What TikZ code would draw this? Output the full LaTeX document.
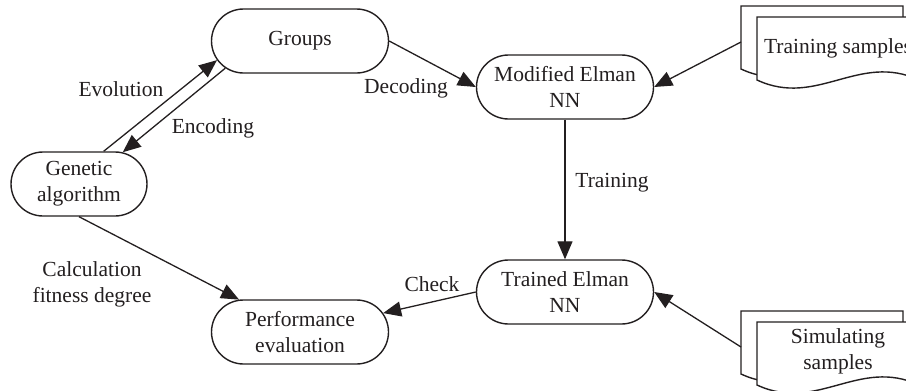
\documentclass[tikz,border=0pt]{standalone}
\usepackage{fontspec}
\setmainfont{Liberation Serif}
\usetikzlibrary{shapes.misc,arrows.meta,calc}
\definecolor{ink}{RGB}{35,31,32}
\begin{document}
\begin{tikzpicture}[x=1pt,y=-1pt,
  font=\fontsize{21.5}{26}\selectfont,
  every node/.style={text=ink},
  stadium/.style={draw=ink, rounded rectangle, line width=1.4pt,
    minimum width=177pt, minimum height=64pt, align=center,
    inner sep=0pt, fill=white},
  flow/.style={draw=ink, line width=1.3pt,
    -{Triangle[length=18pt,width=15pt]}},
  lbl/.style={align=center, inner sep=0pt},
  docpage/.style={draw=ink, line width=1.4pt, fill=white}]

\useasboundingbox (0,0) rectangle (906,391);
\clip (0,0) rectangle (906,391);

% process nodes
\node[stadium] (groups) at (300,41) {Groups};
\node[stadium, minimum width=136pt] (ga) at (79,184) {Genetic\\algorithm};
\node[stadium] (mod) at (565,87) {Modified Elman\\NN};
\node[stadium] (trained) at (565,292) {Trained Elman\\NN};
\node[stadium] (perf) at (300,332) {Performance\\evaluation};

% stacked document symbols (back sheet, then front sheet)
\foreach \dy/\nm in {0/ts, 305/ss} {
  \draw[docpage] (741,6+\dy) -- (903,6+\dy) -- (903,69+\dy)
    .. controls (843,41+\dy) and (801,97+\dy) .. (741,69+\dy) -- cycle;
  \draw[docpage] (757,17+\dy) -- (919,17+\dy) -- (919,80+\dy)
    .. controls (859,52+\dy) and (817,108+\dy) .. (757,80+\dy) -- cycle;
}
\node[lbl] (tsdoc) at (838,48) {Training samples};
\node[lbl] (ssdoc) at (838,351) {Simulating\\samples};
\coordinate (tsport) at (741,42);
\coordinate (ssport) at (741,347);

% connectors
\draw[flow] (ga.53) -- (groups.193);
\draw[flow] (groups.200) -- (ga.36);
\draw[flow] (groups.east) -- (mod.west);
\draw[flow] (tsport) -- (mod.east);
\draw[flow] (mod.south) -- (trained.north);
\draw[flow] (ssport) -- (trained.east);
\draw[flow] (trained.west) -- (perf);
\draw[flow] (ga.south) -- (perf.152);

% connector labels
\node[lbl] (lEvo) at (121,89) {Evolution};
\node[lbl] (lEnc) at (213,128) {Encoding};
\node[lbl] (lDec) at (406,88) {Decoding};
\node[lbl] (lTrain) at (612,183) {Training};
\node[lbl] (lCheck) at (432,284) {Check};
\node[lbl] (lCalc) at (92,284) {Calculation\\fitness degree};
\end{tikzpicture}
\end{document}
